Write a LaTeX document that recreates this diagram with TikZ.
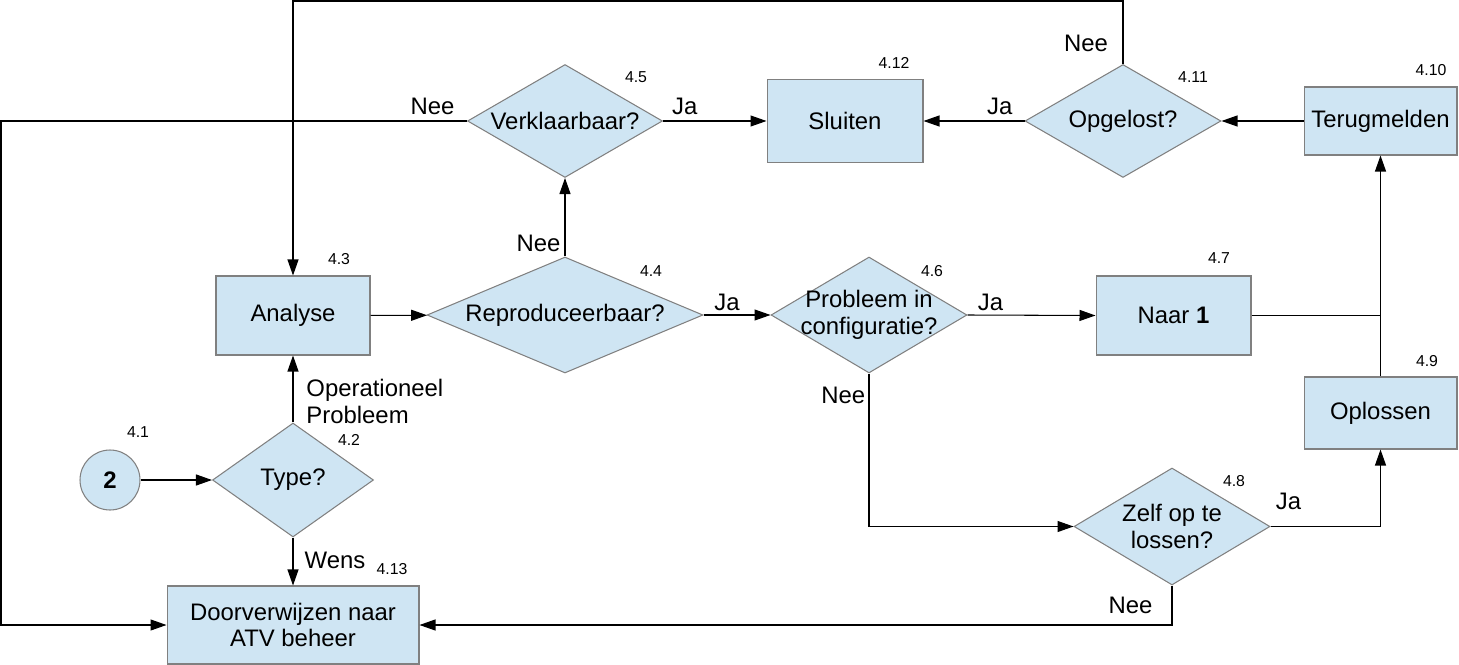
\documentclass[tikz,border=0pt]{standalone}
\usepackage{fontspec}
\setmainfont{Liberation Sans}
\usetikzlibrary{shapes.geometric}
\usetikzlibrary{arrows.meta, positioning}
\definecolor{flowBlue}{RGB}{207, 229, 243}
\colorlet{box area}{flowBlue}
\colorlet{box edge}{black!50}
\tikzset{
    process/.style={rectangle, fill=box area, draw=box edge, line width=0.6pt, align=center, font=\fontsize{13.6}{15.3}\selectfont},
    decision/.style={diamond, fill=box area, draw=box edge, line width=0.6pt, inner sep=0pt,
        label={[align=center, font=\fontsize{13.6}{15.3}\selectfont]center:{#1}}},
    startpoint/.style={circle, fill=box area, draw=box edge, line width=0.6pt, minimum size=1.2cm, inner sep=0pt, font=\fontsize{13.6}{15.3}\selectfont\bfseries},
    flow/.style={-{Triangle[length=0.32cm, width=0.22cm]}, line width=0.6pt},
    plain/.style={line width=0.6pt},
    lbl/.style={font=\fontsize{13.6}{15.3}\selectfont, align=left},
    num/.style={font=\fontsize{9}{10.5}\selectfont}
}

\begin{document}
\begin{tikzpicture}[x=0.02cm, y=-0.02cm]
    \useasboundingbox (0,0) rectangle (1459,665);
    \coordinate (lt) at (1,0);
    \coordinate (top) at (0,1);

    % steps
    \node[startpoint] (start) at (110,480) {2};
    \node[decision={Type?}, minimum width=3.22cm, minimum height=2.28cm] (type) at (293,480) {};
    \node[process, minimum width=3.08cm, minimum height=1.58cm] (analyse) at (293,315.5) {Analyse};
    \node[decision={Reproduceerbaar?}, minimum width=5.52cm, minimum height=2.32cm] (repro) at (565,315) {};
    \node[decision={Verklaarbaar?}, minimum width=3.9cm, minimum height=2.26cm] (verkl) at (565,121) {};
    \node[process, minimum width=3.12cm, minimum height=1.66cm] (sluiten) at (845,121) {Sluiten};
    \node[decision={Opgelost?}, minimum width=3.92cm, minimum height=2.26cm] (opgelost) at (1123,121) {};
    \node[process, minimum width=3.06cm, minimum height=1.36cm] (terug) at (1380.5,121) {Terugmelden};
    \node[decision={Probleem in\\configuratie?}, minimum width=3.92cm, minimum height=2.32cm] (config) at (869,315) {};
    \node[process, minimum width=3.10cm, minimum height=1.58cm] (naar) at (1173.5,315.5) {Naar \textbf{1}};
    \node[process, minimum width=3.06cm, minimum height=1.44cm] (oplossen) at (1380.5,413) {Oplossen};
    \node[decision={Zelf op te\\lossen?}, minimum width=3.92cm, minimum height=2.34cm] (zelf) at (1172,526.5) {};
    \node[process, minimum width=5.04cm, minimum height=1.56cm] (doorv) at (293,625) {Doorverwijzen naar\\ATV beheer};

    % step numbers
    \node[num] (n41) at (138,432) {4.1};
    \node[num] (n42) at (349,440) {4.2};
    \node[num] (n43) at (339,259) {4.3};
    \node[num] (n44) at (651,271) {4.4};
    \node[num] (n45) at (636,77) {4.5};
    \node[num] (n46) at (932,271) {4.6};
    \node[num] (n47) at (1219,258) {4.7};
    \node[num] (n48) at (1234,481) {4.8};
    \node[num] (n49) at (1427,361) {4.9};
    \node[num] (n410) at (1431,70) {4.10};
    \node[num] (n411) at (1193,77) {4.11};
    \node[num] (n412) at (894,63) {4.12};
    \node[num] (n413) at (392,569) {4.13};

    % connections
    \draw[flow] (start) -- (type);
    \draw[flow] (type.north) -- node[lbl, right=4pt, pos=0.31] {Operationeel\\Probleem} (analyse.south);
    \draw[flow] (type.south) -- node[lbl, right=3pt, pos=0.48] {Wens} (doorv.north);
    \draw[flow] (analyse) -- (repro);
    \draw[flow] (repro.north) -- node[lbl, left=-1pt, pos=0.17] {Nee} (verkl.south);
    \draw[flow] (repro.east) -- node[lbl, above=-1pt, pos=0.35] {Ja} (config.west);
    \draw[flow] (config.east) -- node[lbl, above=-1pt, pos=0.18] {Ja} (naar.west);
    \draw[flow] (verkl.east) -- node[lbl, above=0pt, pos=0.21] {Ja} (sluiten.west);
    \draw[flow] (verkl.west) -- node[lbl, above=0pt, pos=0.074] {Nee} (verkl.west -| lt) |- (doorv.west);
    \draw[flow] (opgelost.west) -- node[lbl, above=0pt, pos=0.245] {Ja} (sluiten.east);
    \draw[flow] (terug.west) -- (opgelost.east);
    \draw[flow] (opgelost.north) -- node[lbl, left=5pt, pos=0.33] {Nee} (opgelost.north |- top) -| (analyse.north);
    \draw[plain] (naar.east) -- (naar.east -| terug.south);
    \draw[flow] (oplossen.north) -- (terug.south);
    \draw[flow] (config.south) |- node[lbl, left=-1.5pt, pos=0.073] {Nee} (zelf.west);
    \draw[flow] (zelf.east) -| node[lbl, above=6pt, pos=0.082] {Ja} (oplossen.south);
    \draw[flow] (zelf.south) |- node[lbl, left=7.5pt, pos=0.25] {Nee} (doorv.east);
\end{tikzpicture}
\end{document}
